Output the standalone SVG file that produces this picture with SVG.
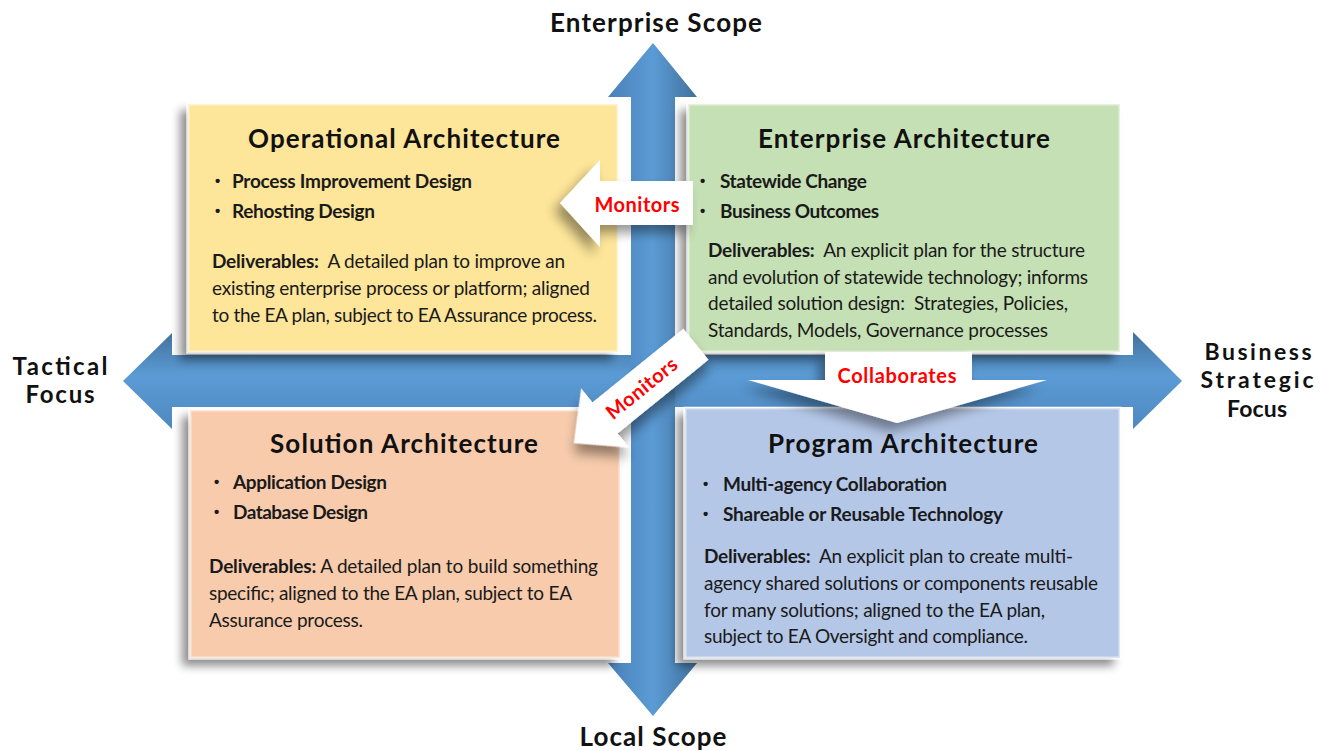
<svg xmlns="http://www.w3.org/2000/svg" width="1327" height="751" viewBox="0 0 1327 751">
<defs>
<style>
.t{font-family:Lato,"Liberation Sans",sans-serif;font-weight:bold;font-size:26px;fill:#111;}
.b{font-family:Lato,"Liberation Sans",sans-serif;font-weight:bold;font-size:19px;fill:#1a1a1a;}
.bu{font-family:"Liberation Sans",sans-serif;font-weight:bold;font-size:15px;fill:#1a1a1a;}
.d{font-family:Lato,"Liberation Sans",sans-serif;font-size:19px;fill:#1a1a1a;white-space:pre;}
.db{font-weight:bold;}
.ax{font-family:Lato,"Liberation Sans",sans-serif;font-weight:bold;font-size:26px;fill:#111;}
.axl{font-family:Lato,"Liberation Sans",sans-serif;font-weight:bold;font-size:24px;fill:#111;}
.axr{font-family:Lato,"Liberation Sans",sans-serif;font-weight:bold;font-size:23px;fill:#111;}
.red{font-family:Lato,"Liberation Sans",sans-serif;font-weight:bold;font-size:20px;fill:#ff0000;}
.box{stroke:#ffffff;stroke-opacity:0.55;stroke-width:3;}
.wa{fill:#ffffff;}
</style>
<filter id="sh" x="-15%" y="-15%" width="135%" height="140%">
<feGaussianBlur in="SourceAlpha" stdDeviation="5"/>
<feOffset dx="-7" dy="7" result="o"/>
<feComponentTransfer><feFuncA type="linear" slope="0.45"/></feComponentTransfer>
<feMerge><feMergeNode/><feMergeNode in="SourceGraphic"/></feMerge>
</filter>
<filter id="sh2" x="-30%" y="-30%" width="170%" height="170%">
<feGaussianBlur in="SourceAlpha" stdDeviation="6"/>
<feOffset dx="-6" dy="8"/>
<feComponentTransfer><feFuncA type="linear" slope="0.4"/></feComponentTransfer>
<feMerge><feMergeNode/><feMergeNode in="SourceGraphic"/></feMerge>
</filter>
<linearGradient id="gh" x1="0" y1="0" x2="0" y2="1">
<stop offset="0" stop-color="#41719C"/>
<stop offset="0.45" stop-color="#5B9BD5"/>
<stop offset="1" stop-color="#4F88C0"/>
</linearGradient>
<linearGradient id="gv" x1="0" y1="0" x2="1" y2="0">
<stop offset="0" stop-color="#4A80B8"/>
<stop offset="0.5" stop-color="#5B9BD5"/>
<stop offset="1" stop-color="#41719C"/>
</linearGradient>
</defs>
<rect width="1327" height="751" fill="#ffffff"/>

<g id="axes">
<polygon points="123,381 172,333 172,355 1133,355 1133,332 1182,381 1133,429 1133,407 172,407 172,429" fill="url(#gh)"/>
<polygon points="653,43 697,97 675,97 675,663 697,663 653,716 608,663 631,663 631,97 608,97" fill="url(#gv)"/>
</g>

<g id="operational" filter="url(#sh)">
<rect class="box" x="188" y="104" width="430" height="248" fill="#FDE599"/>
</g>
<g id="enterprise" filter="url(#sh)">
<rect class="box" x="688" y="104" width="432" height="248" fill="#C5E0B4"/>
</g>
<g id="solution" filter="url(#sh)">
<rect class="box" x="190" y="410" width="430" height="248" fill="#F7CBAC"/>
</g>
<g id="program" filter="url(#sh)">
<rect class="box" x="685" y="408" width="435" height="250" fill="#B4C7E7"/>
</g>

<g id="connectors">
<g id="monitors1" filter="url(#sh2)">
<polygon class="wa" points="560,203 600,160 600,181 693,181 693,225 600,225 600,247"/>
</g>
<g id="monitors2" filter="url(#sh2)" transform="translate(574,443) rotate(-39)">
<polygon class="wa" points="0,0 40,-38 40,-20 157,-20 157,20 40,20 40,38"/>
</g>
<g id="collaborates" filter="url(#sh2)">
<polygon class="wa" points="825,352 972,352 972,380 1047,380 897,423 748,380 825,380"/>
</g>
<text class="red" x="637" y="212" text-anchor="middle" textLength="85">Monitors</text>
<text class="red" transform="translate(574,443) rotate(-39)" x="87" y="7" text-anchor="middle" textLength="85">Monitors</text>
<text class="red" x="897" y="383" text-anchor="middle" textLength="119">Collaborates</text>
</g>

<g id="labels">
<text class="ax" x="656" y="32" text-anchor="middle" textLength="212">Enterprise Scope</text>
<text class="axl" x="60" y="375" text-anchor="middle" textLength="95">Tactical</text>
<text class="axl" x="60" y="403" text-anchor="middle" textLength="69">Focus</text>
<text class="axr" x="1258" y="360" text-anchor="middle" textLength="107">Business</text>
<text class="axr" x="1257" y="388" text-anchor="middle" textLength="113">Strategic</text>
<text class="axr" x="1257" y="417" text-anchor="middle" textLength="60">Focus</text>
<text class="ax" x="653" y="746" text-anchor="middle" textLength="147">Local Scope</text>
</g>

<g id="operational-text">
<text class="t" x="248" y="148" textLength="312">Operational Architecture</text>
<text class="bu" x="215" y="186">•</text>
<text class="b" x="232" y="188" textLength="240">Process Improvement Design</text>
<text class="bu" x="215" y="216">•</text>
<text class="b" x="232" y="218" textLength="143">Rehosting Design</text>
<text class="d" x="212" y="268" textLength="353"><tspan class="db">Deliverables:</tspan>  A detailed plan to improve an</text>
<text class="d" x="212" y="295" textLength="378">existing enterprise process or platform; aligned</text>
<text class="d" x="212" y="322" textLength="385">to the EA plan, subject to EA Assurance process.</text>
</g>

<g id="enterprise-text">
<text class="t" x="758" y="148" textLength="292">Enterprise Architecture</text>
<text class="bu" x="700" y="186">•</text>
<text class="b" x="720" y="188" textLength="147">Statewide Change</text>
<text class="bu" x="700" y="216">•</text>
<text class="b" x="720" y="218" textLength="159">Business Outcomes</text>
<text class="d" x="708" y="257" textLength="377"><tspan class="db">Deliverables:</tspan>  An explicit plan for the structure</text>
<text class="d" x="708" y="284" textLength="380">and evolution of statewide technology; informs</text>
<text class="d" x="708" y="310" textLength="360">detailed solution design:  Strategies, Policies,</text>
<text class="d" x="708" y="337" textLength="340">Standards, Models, Governance processes</text>
</g>

<g id="solution-text">
<text class="t" x="270" y="453" textLength="268">Solution Architecture</text>
<text class="bu" x="214" y="487">•</text>
<text class="b" x="233" y="489" textLength="154">Application Design</text>
<text class="bu" x="214" y="517">•</text>
<text class="b" x="233" y="519" textLength="135">Database Design</text>
<text class="d" x="209" y="573" textLength="389"><tspan class="db">Deliverables:</tspan> A detailed plan to build something</text>
<text class="d" x="209" y="600" textLength="363">specific; aligned to the EA plan, subject to EA</text>
<text class="d" x="209" y="627" textLength="154">Assurance process.</text>
</g>

<g id="program-text">
<text class="t" x="768" y="453" textLength="270">Program Architecture</text>
<text class="bu" x="703" y="489">•</text>
<text class="b" x="723" y="491" textLength="224">Multi-agency Collaboration</text>
<text class="bu" x="703" y="519">•</text>
<text class="b" x="723" y="521" textLength="280">Shareable or Reusable Technology</text>
<text class="d" x="704" y="563" textLength="369"><tspan class="db">Deliverables:</tspan>  An explicit plan to create multi-</text>
<text class="d" x="704" y="590" textLength="394">agency shared solutions or components reusable</text>
<text class="d" x="704" y="617" textLength="341">for many solutions; aligned to the EA plan,</text>
<text class="d" x="704" y="643" textLength="324">subject to EA Oversight and compliance.</text>
</g>
</svg>
